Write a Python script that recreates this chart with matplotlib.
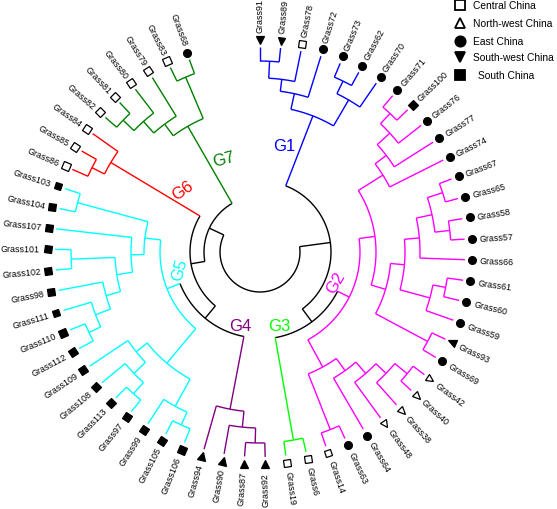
import re
import numpy as np
import matplotlib
matplotlib.use("Agg")
import matplotlib.pyplot as plt
from matplotlib.markers import MarkerStyle
from matplotlib.transforms import Affine2D

plt.rcParams['font.family'] = ['Liberation Sans', 'DejaVu Sans']

# ---------------- data ----------------
# clade topology, internal labels = merge height (leaf = 0)
G1 = "((((Grass91,Grass89)14,Grass78)31,Grass72)43,((Grass73,Grass62)15,Grass70)29)59"
G2 = ("((((((Grass71,Grass100)15,Grass76)29,Grass77)46,Grass74)60,"
      "(((((Grass67,Grass65)13,(Grass58,Grass57)14)29,Grass66)45,((Grass61,Grass60)16,Grass59)29)60,"
      "(Grass93,Grass69)15)74)89,"
      "(((((Grass42,Grass40)14,Grass38)30,Grass48)44,Grass64)59,(Grass63,Grass14)14)74)105")
G3 = "(Grass6,Grass19)14"
G4 = "(((Grass92,Grass87)14,Grass90)29,Grass94)45"
G5 = ("((((Grass106,Grass105)15,Grass99)29,(((Grass97,Grass113)15,Grass108)30,Grass109)46)60,"
      "((((((Grass112,Grass110)16,Grass111)29,Grass98)45,(Grass102,Grass101)16)60,Grass107)76,"
      "(Grass104,Grass103)16)89)105")
G6 = "((Grass86,Grass85)17,Grass84)31"
G7 = "((((Grass82,Grass81)15,Grass80)30,Grass79)45.5,(Grass83,Grass68)15)60"
TOP = "((G1,(G2,G3)118)134,(((G4,G5)119,G6)135,G7)149)165"

group_names = ["G1", "G2", "G3", "G4", "G5", "G6", "G7"]
group_trees = [G1, G2, G3, G4, G5, G6, G7]
group_colors = ["#0000FF", "#FF00FF", "#00FF00", "#800080", "#00FFFF", "#FF0000", "#008000"]

regions = ["Central China", "North-west China", "East China", "South-west China", "South China"]
leaf_region = {
    "Grass91": 3, "Grass89": 3, "Grass78": 0, "Grass72": 2, "Grass73": 2, "Grass62": 2, "Grass70": 2,
    "Grass71": 2, "Grass100": 4, "Grass76": 2, "Grass77": 2, "Grass74": 2, "Grass67": 2, "Grass65": 2,
    "Grass58": 2, "Grass57": 2, "Grass66": 2, "Grass61": 2, "Grass60": 2, "Grass59": 2, "Grass93": 3,
    "Grass69": 2, "Grass42": 1, "Grass40": 1, "Grass38": 1, "Grass48": 1, "Grass64": 2, "Grass63": 2,
    "Grass14": 0, "Grass6": 0, "Grass19": 0, "Grass92": 3, "Grass87": 3, "Grass90": 3, "Grass94": 3,
    "Grass106": 4, "Grass105": 4, "Grass99": 4, "Grass97": 4, "Grass113": 4, "Grass108": 4,
    "Grass109": 4, "Grass112": 4, "Grass110": 4, "Grass111": 4, "Grass98": 4, "Grass102": 4,
    "Grass101": 4, "Grass107": 4, "Grass104": 4, "Grass103": 4, "Grass86": 0, "Grass85": 0,
    "Grass84": 0, "Grass82": 0, "Grass81": 0, "Grass80": 0, "Grass79": 0, "Grass83": 0, "Grass68": 2,
}
region_marker = ["s", "^", "o", "v", "s"]
region_filled = [False, False, True, True, True]

# ---------------- layout ----------------
CX, CY = 260.0, 253.0
R_LEAF = 205.0
STEP = 5.76          # degrees between leaves (clockwise from top)

newick = TOP
for name, tree in zip(group_names, group_trees):
    newick = newick.replace(name, "<" + name + ">" + tree)


def parse(s):
    pos = 0

    def node():
        nonlocal pos
        grp = None
        if s[pos] == "<":
            end = s.index(">", pos)
            grp = s[pos + 1:end]
            pos = end + 1
        if s[pos] == "(":
            pos += 1
            kids = [node()]
            while s[pos] == ",":
                pos += 1
                kids.append(node())
            pos += 1
            m = re.match(r"[\d.]+", s[pos:])
            pos += len(m.group())
            return {"kids": kids, "h": float(m.group()), "grp": grp}
        m = re.match(r"[^,()]+", s[pos:])
        pos += len(m.group())
        return {"kids": [], "h": 0.0, "name": m.group(), "grp": grp}

    return node()


root = parse(newick)
leaves = []


def layout(n, color):
    if n["grp"] is not None:
        color = group_colors[group_names.index(n["grp"])]
    n["color"] = color
    n["r"] = R_LEAF - n["h"]
    if not n["kids"]:
        n["a"] = len(leaves) * STEP
        leaves.append(n)
    else:
        for k in n["kids"]:
            layout(k, color)
        n["a"] = 0.5 * (n["kids"][0]["a"] + n["kids"][-1]["a"])


layout(root, "black")

fig = plt.figure(figsize=(5.57, 5.10), dpi=100)
ax = fig.add_axes([0, 0, 1, 1])
ax.set_xlim(0, 557)
ax.set_ylim(510, 0)
ax.axis("off")


def pt(r, a):
    t = np.radians(a)
    return CX + r * np.sin(t), CY - r * np.cos(t)


LW = 1.0


def draw(n):
    if not n["kids"]:
        return
    a0, a1 = n["kids"][0]["a"], n["kids"][-1]["a"]
    aa = np.linspace(a0, a1, 200)
    x, y = pt(n["r"], aa)
    ax.plot(x, y, color=n["color"], lw=LW, solid_capstyle="butt")
    for k in n["kids"]:
        x0, y0 = pt(n["r"], k["a"])
        x1, y1 = pt(k["r"], k["a"])
        ax.plot([x0, x1], [y0, y1], color=k["color"], lw=LW, solid_capstyle="butt")
        draw(k)


draw(root)

# leaf markers and labels
R_MARK = 212.5
R_TEXT = 220.0
for lf in leaves:
    a = lf["a"]
    reg = leaf_region[lf["name"]]
    mk = MarkerStyle(region_marker[reg], transform=Affine2D().rotate_deg(-a))
    x, y = pt(R_MARK, a)
    ms = 5.6 if region_marker[reg] != "s" else 5.0
    ax.plot([x], [y], marker=mk, ms=ms, mfc="black" if region_filled[reg] else "white",
            mec="black", mew=0.9, ls="none")
    tx, ty = pt(R_TEXT, a)
    if a <= 175:
        rot, ha = 90 - a, "left"
    else:
        rot, ha = 270 - a, "right"
    ax.text(tx, ty, lf["name"], fontsize=6.4, rotation=rot, ha=ha, va="center",
            rotation_mode="anchor")

# group labels
label_pos = {"G1": (284, 147, 0), "G2": (336, 283, 60), "G3": (279, 327, 0), "G4": (240, 327, 0),
             "G5": (180, 270, 75), "G6": (183, 191, 35), "G7": (224, 160, 15)}
for name, col in zip(group_names, group_colors):
    x, y, rot = label_pos[name]
    ax.text(x, y, name, color=col, fontsize=12, ha="center", va="center", rotation=rot)

# legend
leg_y = [6.2, 24.3, 41.7, 58.3, 75.7]
for i, reg in enumerate(regions):
    ax.plot([459.5], [leg_y[i]], marker=region_marker[i], ms=7.4 if region_marker[i] != "s" else 6.8,
            mfc="black" if region_filled[i] else "white", mec="black", mew=1.3, ls="none")
    ax.text(473 if i < 4 else 477.5, leg_y[i], reg, fontsize=7.4, ha="left", va="center")

fig.savefig("out.png", dpi=100)
